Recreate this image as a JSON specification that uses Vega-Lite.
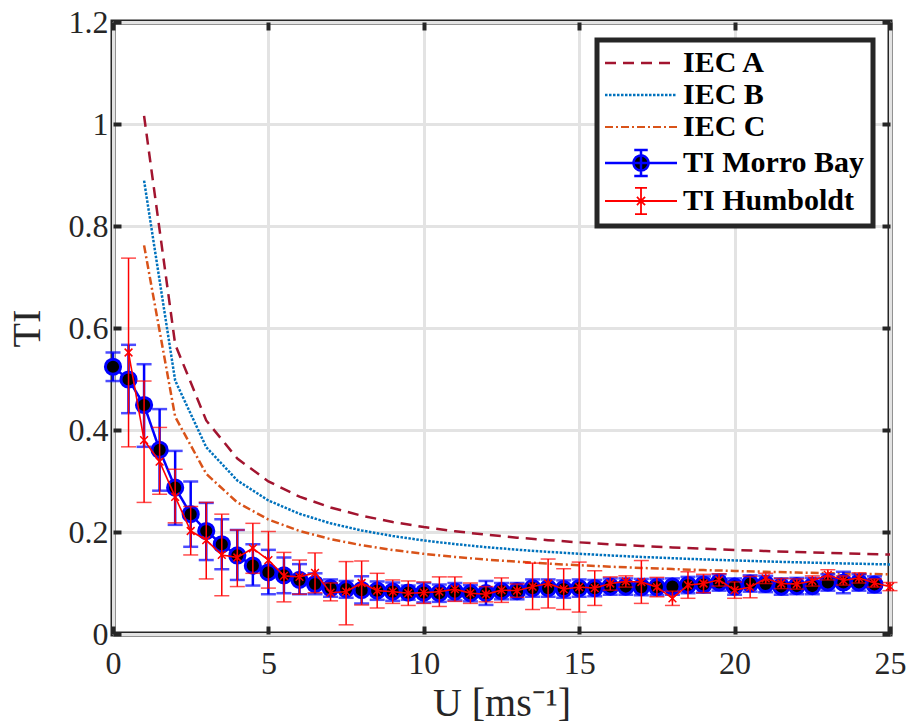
{
  "$schema": "https://vega.github.io/schema/vega-lite/v6.json",
  "width": 777,
  "height": 612,
  "autosize": {"type": "none"},
  "padding": {"left": 113, "top": 22, "right": 20, "bottom": 91},
  "background": "white",
  "datasets": {
    "iec": [
      {"U": 1, "TI": 1.016, "series": "IEC A"}, {"U": 2, "TI": 0.568, "series": "IEC A"}, {"U": 3, "TI": 0.4187, "series": "IEC A"}, {"U": 4, "TI": 0.344, "series": "IEC A"}, {"U": 5, "TI": 0.2992, "series": "IEC A"},
      {"U": 6, "TI": 0.2693, "series": "IEC A"}, {"U": 7, "TI": 0.248, "series": "IEC A"}, {"U": 8, "TI": 0.232, "series": "IEC A"}, {"U": 9, "TI": 0.2196, "series": "IEC A"}, {"U": 10, "TI": 0.2096, "series": "IEC A"},
      {"U": 11, "TI": 0.2015, "series": "IEC A"}, {"U": 12, "TI": 0.1947, "series": "IEC A"}, {"U": 13, "TI": 0.1889, "series": "IEC A"}, {"U": 14, "TI": 0.184, "series": "IEC A"}, {"U": 15, "TI": 0.1797, "series": "IEC A"},
      {"U": 16, "TI": 0.176, "series": "IEC A"}, {"U": 17, "TI": 0.1727, "series": "IEC A"}, {"U": 18, "TI": 0.1698, "series": "IEC A"}, {"U": 19, "TI": 0.1672, "series": "IEC A"}, {"U": 20, "TI": 0.1648, "series": "IEC A"},
      {"U": 21, "TI": 0.1627, "series": "IEC A"}, {"U": 22, "TI": 0.1607, "series": "IEC A"}, {"U": 23, "TI": 0.159, "series": "IEC A"}, {"U": 24, "TI": 0.1573, "series": "IEC A"}, {"U": 25, "TI": 0.1558, "series": "IEC A"},
      {"U": 1, "TI": 0.889, "series": "IEC B"}, {"U": 2, "TI": 0.497, "series": "IEC B"}, {"U": 3, "TI": 0.3663, "series": "IEC B"}, {"U": 4, "TI": 0.301, "series": "IEC B"}, {"U": 5, "TI": 0.2618, "series": "IEC B"},
      {"U": 6, "TI": 0.2357, "series": "IEC B"}, {"U": 7, "TI": 0.217, "series": "IEC B"}, {"U": 8, "TI": 0.203, "series": "IEC B"}, {"U": 9, "TI": 0.1921, "series": "IEC B"}, {"U": 10, "TI": 0.1834, "series": "IEC B"},
      {"U": 11, "TI": 0.1763, "series": "IEC B"}, {"U": 12, "TI": 0.1703, "series": "IEC B"}, {"U": 13, "TI": 0.1653, "series": "IEC B"}, {"U": 14, "TI": 0.161, "series": "IEC B"}, {"U": 15, "TI": 0.1573, "series": "IEC B"},
      {"U": 16, "TI": 0.154, "series": "IEC B"}, {"U": 17, "TI": 0.1511, "series": "IEC B"}, {"U": 18, "TI": 0.1486, "series": "IEC B"}, {"U": 19, "TI": 0.1463, "series": "IEC B"}, {"U": 20, "TI": 0.1442, "series": "IEC B"},
      {"U": 21, "TI": 0.1423, "series": "IEC B"}, {"U": 22, "TI": 0.1406, "series": "IEC B"}, {"U": 23, "TI": 0.1391, "series": "IEC B"}, {"U": 24, "TI": 0.1377, "series": "IEC B"}, {"U": 25, "TI": 0.1364, "series": "IEC B"},
      {"U": 1, "TI": 0.762, "series": "IEC C"}, {"U": 2, "TI": 0.426, "series": "IEC C"}, {"U": 3, "TI": 0.314, "series": "IEC C"}, {"U": 4, "TI": 0.258, "series": "IEC C"}, {"U": 5, "TI": 0.2244, "series": "IEC C"},
      {"U": 6, "TI": 0.202, "series": "IEC C"}, {"U": 7, "TI": 0.186, "series": "IEC C"}, {"U": 8, "TI": 0.174, "series": "IEC C"}, {"U": 9, "TI": 0.1647, "series": "IEC C"}, {"U": 10, "TI": 0.1572, "series": "IEC C"},
      {"U": 11, "TI": 0.1511, "series": "IEC C"}, {"U": 12, "TI": 0.146, "series": "IEC C"}, {"U": 13, "TI": 0.1417, "series": "IEC C"}, {"U": 14, "TI": 0.138, "series": "IEC C"}, {"U": 15, "TI": 0.1348, "series": "IEC C"},
      {"U": 16, "TI": 0.132, "series": "IEC C"}, {"U": 17, "TI": 0.1295, "series": "IEC C"}, {"U": 18, "TI": 0.1273, "series": "IEC C"}, {"U": 19, "TI": 0.1254, "series": "IEC C"}, {"U": 20, "TI": 0.1236, "series": "IEC C"},
      {"U": 21, "TI": 0.122, "series": "IEC C"}, {"U": 22, "TI": 0.1205, "series": "IEC C"}, {"U": 23, "TI": 0.1192, "series": "IEC C"}, {"U": 24, "TI": 0.118, "series": "IEC C"}, {"U": 25, "TI": 0.1169, "series": "IEC C"}
    ],
    "ti": [
      {"U": 0, "TI": 0.524, "lo": 0.496, "hi": 0.552, "series": "TI Morro Bay"},
      {"U": 0.5, "TI": 0.499, "lo": 0.433, "hi": 0.567, "series": "TI Morro Bay"},
      {"U": 1, "TI": 0.449, "lo": 0.367, "hi": 0.529, "series": "TI Morro Bay"},
      {"U": 1.5, "TI": 0.361, "lo": 0.281, "hi": 0.441, "series": "TI Morro Bay"},
      {"U": 2, "TI": 0.287, "lo": 0.214, "hi": 0.359, "series": "TI Morro Bay"},
      {"U": 2.5, "TI": 0.235, "lo": 0.171, "hi": 0.299, "series": "TI Morro Bay"},
      {"U": 3, "TI": 0.202, "lo": 0.145, "hi": 0.257, "series": "TI Morro Bay"},
      {"U": 3.5, "TI": 0.176, "lo": 0.127, "hi": 0.225, "series": "TI Morro Bay"},
      {"U": 4, "TI": 0.154, "lo": 0.106, "hi": 0.204, "series": "TI Morro Bay"},
      {"U": 4.5, "TI": 0.134, "lo": 0.095, "hi": 0.176, "series": "TI Morro Bay"},
      {"U": 5, "TI": 0.121, "lo": 0.078, "hi": 0.165, "series": "TI Morro Bay"},
      {"U": 5.5, "TI": 0.115, "lo": 0.08, "hi": 0.15, "series": "TI Morro Bay"},
      {"U": 6, "TI": 0.106, "lo": 0.078, "hi": 0.137, "series": "TI Morro Bay"},
      {"U": 6.5, "TI": 0.098, "lo": 0.078, "hi": 0.119, "series": "TI Morro Bay"},
      {"U": 7, "TI": 0.09, "lo": 0.073, "hi": 0.107, "series": "TI Morro Bay"},
      {"U": 7.5, "TI": 0.088, "lo": 0.071, "hi": 0.104, "series": "TI Morro Bay"},
      {"U": 8, "TI": 0.086, "lo": 0.06, "hi": 0.113, "series": "TI Morro Bay"},
      {"U": 8.5, "TI": 0.085, "lo": 0.067, "hi": 0.103, "series": "TI Morro Bay"},
      {"U": 9, "TI": 0.083, "lo": 0.065, "hi": 0.101, "series": "TI Morro Bay"},
      {"U": 9.5, "TI": 0.081, "lo": 0.067, "hi": 0.095, "series": "TI Morro Bay"},
      {"U": 10, "TI": 0.081, "lo": 0.062, "hi": 0.1, "series": "TI Morro Bay"},
      {"U": 10.5, "TI": 0.08, "lo": 0.063, "hi": 0.097, "series": "TI Morro Bay"},
      {"U": 11, "TI": 0.083, "lo": 0.066, "hi": 0.1, "series": "TI Morro Bay"},
      {"U": 11.5, "TI": 0.08, "lo": 0.064, "hi": 0.096, "series": "TI Morro Bay"},
      {"U": 12, "TI": 0.08, "lo": 0.057, "hi": 0.104, "series": "TI Morro Bay"},
      {"U": 12.5, "TI": 0.084, "lo": 0.068, "hi": 0.1, "series": "TI Morro Bay"},
      {"U": 13, "TI": 0.084, "lo": 0.068, "hi": 0.1, "series": "TI Morro Bay"},
      {"U": 13.5, "TI": 0.09, "lo": 0.073, "hi": 0.107, "series": "TI Morro Bay"},
      {"U": 14, "TI": 0.09, "lo": 0.073, "hi": 0.107, "series": "TI Morro Bay"},
      {"U": 14.5, "TI": 0.088, "lo": 0.071, "hi": 0.105, "series": "TI Morro Bay"},
      {"U": 15, "TI": 0.09, "lo": 0.073, "hi": 0.107, "series": "TI Morro Bay"},
      {"U": 15.5, "TI": 0.09, "lo": 0.074, "hi": 0.106, "series": "TI Morro Bay"},
      {"U": 16, "TI": 0.093, "lo": 0.077, "hi": 0.109, "series": "TI Morro Bay"},
      {"U": 16.5, "TI": 0.093, "lo": 0.077, "hi": 0.109, "series": "TI Morro Bay"},
      {"U": 17, "TI": 0.092, "lo": 0.076, "hi": 0.108, "series": "TI Morro Bay"},
      {"U": 17.5, "TI": 0.092, "lo": 0.076, "hi": 0.108, "series": "TI Morro Bay"},
      {"U": 18, "TI": 0.093, "lo": 0.077, "hi": 0.109, "series": "TI Morro Bay"},
      {"U": 18.5, "TI": 0.096, "lo": 0.08, "hi": 0.112, "series": "TI Morro Bay"},
      {"U": 19, "TI": 0.097, "lo": 0.081, "hi": 0.113, "series": "TI Morro Bay"},
      {"U": 19.5, "TI": 0.101, "lo": 0.085, "hi": 0.117, "series": "TI Morro Bay"},
      {"U": 20, "TI": 0.093, "lo": 0.077, "hi": 0.109, "series": "TI Morro Bay"},
      {"U": 20.5, "TI": 0.099, "lo": 0.083, "hi": 0.115, "series": "TI Morro Bay"},
      {"U": 21, "TI": 0.098, "lo": 0.082, "hi": 0.114, "series": "TI Morro Bay"},
      {"U": 21.5, "TI": 0.093, "lo": 0.077, "hi": 0.109, "series": "TI Morro Bay"},
      {"U": 22, "TI": 0.094, "lo": 0.078, "hi": 0.11, "series": "TI Morro Bay"},
      {"U": 22.5, "TI": 0.094, "lo": 0.078, "hi": 0.11, "series": "TI Morro Bay"},
      {"U": 23, "TI": 0.101, "lo": 0.085, "hi": 0.117, "series": "TI Morro Bay"},
      {"U": 23.5, "TI": 0.101, "lo": 0.08, "hi": 0.122, "series": "TI Morro Bay"},
      {"U": 24, "TI": 0.101, "lo": 0.085, "hi": 0.117, "series": "TI Morro Bay"},
      {"U": 24.5, "TI": 0.097, "lo": 0.081, "hi": 0.113, "series": "TI Morro Bay"},
      {"U": 0.5, "TI": 0.552, "lo": 0.367, "hi": 0.737, "series": "TI Humboldt"},
      {"U": 1, "TI": 0.38, "lo": 0.258, "hi": 0.496, "series": "TI Humboldt"},
      {"U": 1.5, "TI": 0.338, "lo": 0.274, "hi": 0.405, "series": "TI Humboldt"},
      {"U": 2, "TI": 0.269, "lo": 0.218, "hi": 0.323, "series": "TI Humboldt"},
      {"U": 2.5, "TI": 0.202, "lo": 0.155, "hi": 0.25, "series": "TI Humboldt"},
      {"U": 3, "TI": 0.184, "lo": 0.108, "hi": 0.258, "series": "TI Humboldt"},
      {"U": 3.5, "TI": 0.155, "lo": 0.075, "hi": 0.235, "series": "TI Humboldt"},
      {"U": 4, "TI": 0.15, "lo": 0.093, "hi": 0.204, "series": "TI Humboldt"},
      {"U": 4.5, "TI": 0.168, "lo": 0.119, "hi": 0.217, "series": "TI Humboldt"},
      {"U": 5, "TI": 0.145, "lo": 0.09, "hi": 0.201, "series": "TI Humboldt"},
      {"U": 5.5, "TI": 0.114, "lo": 0.063, "hi": 0.16, "series": "TI Humboldt"},
      {"U": 6, "TI": 0.112, "lo": 0.078, "hi": 0.145, "series": "TI Humboldt"},
      {"U": 6.5, "TI": 0.12, "lo": 0.081, "hi": 0.159, "series": "TI Humboldt"},
      {"U": 7, "TI": 0.081, "lo": 0.065, "hi": 0.1, "series": "TI Humboldt"},
      {"U": 7.5, "TI": 0.083, "lo": 0.018, "hi": 0.142, "series": "TI Humboldt"},
      {"U": 8, "TI": 0.1, "lo": 0.057, "hi": 0.143, "series": "TI Humboldt"},
      {"U": 8.5, "TI": 0.085, "lo": 0.051, "hi": 0.119, "series": "TI Humboldt"},
      {"U": 9, "TI": 0.083, "lo": 0.06, "hi": 0.106, "series": "TI Humboldt"},
      {"U": 9.5, "TI": 0.08, "lo": 0.056, "hi": 0.104, "series": "TI Humboldt"},
      {"U": 10, "TI": 0.081, "lo": 0.06, "hi": 0.102, "series": "TI Humboldt"},
      {"U": 10.5, "TI": 0.083, "lo": 0.054, "hi": 0.112, "series": "TI Humboldt"},
      {"U": 11, "TI": 0.088, "lo": 0.064, "hi": 0.112, "series": "TI Humboldt"},
      {"U": 11.5, "TI": 0.08, "lo": 0.06, "hi": 0.1, "series": "TI Humboldt"},
      {"U": 12, "TI": 0.078, "lo": 0.063, "hi": 0.093, "series": "TI Humboldt"},
      {"U": 12.5, "TI": 0.086, "lo": 0.062, "hi": 0.11, "series": "TI Humboldt"},
      {"U": 13, "TI": 0.085, "lo": 0.072, "hi": 0.098, "series": "TI Humboldt"},
      {"U": 13.5, "TI": 0.093, "lo": 0.048, "hi": 0.139, "series": "TI Humboldt"},
      {"U": 14, "TI": 0.099, "lo": 0.051, "hi": 0.147, "series": "TI Humboldt"},
      {"U": 14.5, "TI": 0.088, "lo": 0.048, "hi": 0.128, "series": "TI Humboldt"},
      {"U": 15, "TI": 0.092, "lo": 0.043, "hi": 0.141, "series": "TI Humboldt"},
      {"U": 15.5, "TI": 0.09, "lo": 0.056, "hi": 0.124, "series": "TI Humboldt"},
      {"U": 16, "TI": 0.099, "lo": 0.086, "hi": 0.112, "series": "TI Humboldt"},
      {"U": 16.5, "TI": 0.103, "lo": 0.092, "hi": 0.114, "series": "TI Humboldt"},
      {"U": 17, "TI": 0.102, "lo": 0.06, "hi": 0.144, "series": "TI Humboldt"},
      {"U": 17.5, "TI": 0.092, "lo": 0.073, "hi": 0.111, "series": "TI Humboldt"},
      {"U": 18, "TI": 0.07, "lo": 0.056, "hi": 0.084, "series": "TI Humboldt"},
      {"U": 18.5, "TI": 0.096, "lo": 0.07, "hi": 0.122, "series": "TI Humboldt"},
      {"U": 19, "TI": 0.099, "lo": 0.081, "hi": 0.117, "series": "TI Humboldt"},
      {"U": 19.5, "TI": 0.106, "lo": 0.094, "hi": 0.118, "series": "TI Humboldt"},
      {"U": 20, "TI": 0.086, "lo": 0.07, "hi": 0.102, "series": "TI Humboldt"},
      {"U": 20.5, "TI": 0.092, "lo": 0.071, "hi": 0.113, "series": "TI Humboldt"},
      {"U": 21, "TI": 0.109, "lo": 0.099, "hi": 0.119, "series": "TI Humboldt"},
      {"U": 21.5, "TI": 0.099, "lo": 0.089, "hi": 0.109, "series": "TI Humboldt"},
      {"U": 22, "TI": 0.098, "lo": 0.088, "hi": 0.108, "series": "TI Humboldt"},
      {"U": 22.5, "TI": 0.104, "lo": 0.094, "hi": 0.114, "series": "TI Humboldt"},
      {"U": 23, "TI": 0.116, "lo": 0.106, "hi": 0.126, "series": "TI Humboldt"},
      {"U": 23.5, "TI": 0.105, "lo": 0.096, "hi": 0.114, "series": "TI Humboldt"},
      {"U": 24, "TI": 0.11, "lo": 0.1, "hi": 0.12, "series": "TI Humboldt"},
      {"U": 24.5, "TI": 0.1, "lo": 0.092, "hi": 0.108, "series": "TI Humboldt"},
      {"U": 25, "TI": 0.093, "lo": 0.085, "hi": 0.101, "series": "TI Humboldt"}
    ]
  },
  "resolve": {"axis": {"x": "independent", "y": "independent"}},
  "layer": [
    {
      "encoding": {
        "x": {
          "field": "U", "type": "quantitative",
          "scale": {"domain": [0, 25], "nice": false},
          "axis": {"values": [0, 5, 10, 15, 20, 25], "title": "U [ms⁻¹]", "titlePadding": 4, "labelPadding": 22}
        },
        "y": {
          "field": "TI", "type": "quantitative",
          "scale": {"domain": [0, 1.2], "nice": false, "zero": true},
          "axis": {"values": [0, 0.2, 0.4, 0.6, 0.8, 1, 1.2], "format": "~g", "title": "TI", "titleX": -66, "labelPadding": 13}
        }
      },
      "layer": [
        {
          "data": {"name": "iec"},
          "mark": {"type": "line", "strokeWidth": 2.5, "clip": false},
          "encoding": {
            "detail": {"field": "series"},
            "color": {
              "field": "series", "type": "nominal",
              "scale": {
                "domain": ["IEC A", "IEC B", "IEC C", "TI Morro Bay", "TI Humboldt"],
                "range": ["#A2142F", "#0072BD", "#D95319", "#0000FF", "#FF0000"]
              },
              "legend": {
                "title": null,
                "encode": {
                  "symbols": {
                    "update": {
                      "shape": {"signal": "datum.value === 'TI Morro Bay' ? 'M-2.4,0H2.4M0,-0.87V0.87M-0.45,-0.87H0.45M-0.45,0.87H0.45M-0.5,0A0.5,0.5 0 1,0 0.5,0A0.5,0.5 0 1,0 -0.5,0Z' : datum.value === 'TI Humboldt' ? 'M-2.4,0H2.4M0,-0.87V0.87M-0.4,-0.87H0.4M-0.4,0.87H0.4M-0.27,-0.27L0.27,0.27M-0.27,0.27L0.27,-0.27' : 'M-2.4,0H2.4'"},
                      "fill": {"signal": "datum.value === 'TI Morro Bay' ? 'black' : 'transparent'"},
                      "strokeWidth": {"signal": "datum.value === 'IEC C' || datum.value === 'TI Humboldt' ? 1.8 : 2.5"}
                    }
                  }
                }
              }
            },
            "strokeDash": {
              "field": "series", "type": "nominal",
              "scale": {
                "domain": ["IEC A", "IEC B", "IEC C", "TI Morro Bay", "TI Humboldt"],
                "range": [[11, 7], [2.5, 1.5], [8, 3, 2, 3], [1, 0], [1, 0]]
              },
              "legend": {"title": null}
            }
          }
        },
        {
          "data": {"name": "ti"},
          "transform": [{"filter": "datum.series === 'TI Morro Bay'"}],
          "mark": {"type": "errorbar", "ticks": true, "size": 15, "thickness": 2.5, "color": "#0000FF", "clip": false},
          "encoding": {
            "y": {"field": "lo", "type": "quantitative"},
            "y2": {"field": "hi"}
          }
        },
        {
          "data": {"name": "ti"},
          "transform": [{"filter": "datum.series === 'TI Morro Bay'"}],
          "mark": {"type": "line", "strokeWidth": 2.5, "clip": false},
          "encoding": {
            "color": {"field": "series", "type": "nominal"},
            "strokeDash": {"field": "series", "type": "nominal"}
          }
        },
        {
          "data": {"name": "ti"},
          "transform": [{"filter": "datum.series === 'TI Morro Bay'"}],
          "mark": {"type": "point", "shape": "circle", "filled": true, "fill": "black", "stroke": "#0000FF", "strokeWidth": 3, "opacity": 1, "size": 230, "clip": false}
        },
        {
          "data": {"name": "ti"},
          "transform": [{"filter": "datum.series === 'TI Humboldt'"}],
          "mark": {"type": "errorbar", "ticks": true, "size": 15, "thickness": 1.5, "color": "#FF0000", "clip": false},
          "encoding": {
            "y": {"field": "lo", "type": "quantitative"},
            "y2": {"field": "hi"}
          }
        },
        {
          "data": {"name": "ti"},
          "transform": [{"filter": "datum.series === 'TI Humboldt'"}],
          "mark": {"type": "line", "strokeWidth": 1.6, "clip": false},
          "encoding": {
            "color": {"field": "series", "type": "nominal"},
            "strokeDash": {"field": "series", "type": "nominal"}
          }
        },
        {
          "data": {"name": "ti"},
          "transform": [{"filter": "datum.series === 'TI Humboldt'"}],
          "mark": {"type": "point", "shape": "M-1,-1L1,1M-1,1L1,-1M0,-1V1", "filled": false, "stroke": "#FF0000", "strokeWidth": 1.5, "opacity": 1, "size": 60, "clip": false}
        }
      ]
    },
    {
      "data": {"name": "ti"},
      "mark": {"type": "point", "opacity": 0},
      "encoding": {
        "x": {
          "field": "U", "type": "quantitative",
          "axis": {"orient": "top", "values": [0, 5, 10, 15, 20, 25], "labels": false, "grid": false, "title": null}
        },
        "y": {
          "field": "TI", "type": "quantitative",
          "axis": {"orient": "right", "values": [0, 0.2, 0.4, 0.6, 0.8, 1, 1.2], "labels": false, "grid": false, "title": null}
        }
      }
    }
  ],
  "config": {
    "font": "Liberation Serif",
    "view": {"stroke": "#262626", "strokeWidth": 5},
    "axis": {
      "labelFont": "Liberation Serif",
      "labelFontSize": 32,
      "labelColor": "#262626",
      "labelPadding": 12,
      "labelFlush": false,
      "titleFont": "Liberation Serif",
      "titleFontSize": 40,
      "titleFontWeight": "normal",
      "titleColor": "#262626",
      "domain": false,
      "ticks": true,
      "tickColor": "#262626",
      "tickSize": -8,
      "tickWidth": 4,
      "grid": true,
      "gridColor": "#e3e3e3",
      "gridWidth": 3
    },
    "legend": {
      "orient": "none",
      "legendX": 484,
      "legendY": 18,
      "labelFont": "Liberation Serif",
      "labelFontSize": 30,
      "labelFontWeight": "bold",
      "labelColor": "black",
      "labelLimit": 400,
      "labelOffset": 27,
      "symbolSize": 900,
      "symbolOffset": 21,
      "symbolStrokeWidth": 2.5,
      "rowPadding": 2,
      "padding": 8,
      "fillColor": "white",
      "strokeColor": "#262626",
      "strokeWidth": 5
    }
  }
}
